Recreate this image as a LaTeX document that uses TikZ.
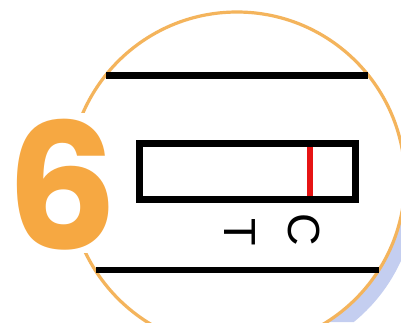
\documentclass[tikz,border=0pt]{standalone}
\usepackage{fontspec}
\setmainfont{Liberation Sans}
\newfontfamily\sixfont{Poppins}
\definecolor{ringorange}{RGB}{244,180,92}
\definecolor{sixorange}{RGB}{246,168,66}
\definecolor{shadowblue}{RGB}{196,206,240}
\definecolor{markred}{RGB}{230,20,20}
\tikzset{
  blackbar/.style={line width=6.5pt, black},
  letter/.style={font=\fontsize{45}{45}\selectfont, rotate=-90, inner sep=0pt, anchor=center},
}
\begin{document}
\begin{tikzpicture}[x=1pt,y=-1pt]
\useasboundingbox (0,0) rectangle (401,322);
\fill[white] (0,0) rectangle (401,322);
\begin{scope}
\clip (0,0) rectangle (401,322);
% blue shadow, bottom right only
\begin{scope}
\clip (300,322) -- (401,322) -- (401,185) -- cycle;
\fill[shadowblue] (247,191) circle (169);
\end{scope}
\fill[white] (237,180) circle (168);
\draw[ringorange, line width=3.2pt] (237,180) circle (168);
\end{scope}
% white halo behind 6
\fill[white] (0,113) rectangle (112,253);
\node[font=\sixfont\bfseries\fontsize{175}{175}\selectfont, text=sixorange, inner sep=0pt, anchor=center] (six) at (62,185) {6};
% horizontal bars
\coordinate (tl) at (106,75.5);
\coordinate (tr) at (368,75.5);
\coordinate (bl) at (96,270);
\coordinate (br) at (379,270);
\draw[blackbar] (tl) -- (tr);
\draw[blackbar] (bl) -- (br);
% test strip
\node[draw, line width=6.5pt, minimum width=216pt, minimum height=56pt, inner sep=0pt, outer sep=0pt] (strip) at (247.5,171.5) {};
\coordinate (rt) at (310,147);
\coordinate (rb) at (310,196);
\draw[markred, line width=6.5pt] (rt) -- (rb);
\node[letter] (lblT) at (240,232) {T};
\node[letter] (lblC) at (304,230) {C};
\end{tikzpicture}
\end{document}
